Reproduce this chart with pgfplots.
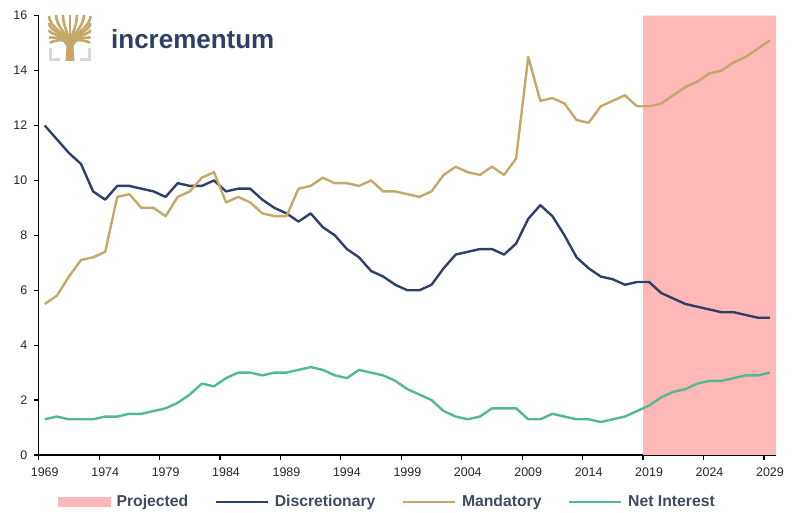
\documentclass[border=0pt]{standalone}
\usepackage{fontspec}
\setmainfont{Liberation Sans}
\usepackage{pgfplots}
\usepackage{pgfplotstable}
\pgfplotsset{compat=1.18}
\definecolor{navy}{RGB}{46,64,104}
\definecolor{tan}{RGB}{196,168,106}
\definecolor{mint}{RGB}{84,184,148}
\definecolor{proj}{RGB}{255,184,184}
\definecolor{legtext}{RGB}{62,74,96}
\definecolor{bracket}{RGB}{215,215,215}
\pgfplotstableread{
year disc mand net
1969 12.0 5.5 1.3
1970 11.5 5.8 1.4
1971 11.0 6.5 1.3
1972 10.6 7.1 1.3
1973 9.6 7.2 1.3
1974 9.3 7.4 1.4
1975 9.8 9.4 1.4
1976 9.8 9.5 1.5
1977 9.7 9.0 1.5
1978 9.6 9.0 1.6
1979 9.4 8.7 1.7
1980 9.9 9.4 1.9
1981 9.8 9.6 2.2
1982 9.8 10.1 2.6
1983 10.0 10.3 2.5
1984 9.6 9.2 2.8
1985 9.7 9.4 3.0
1986 9.7 9.2 3.0
1987 9.3 8.8 2.9
1988 9.0 8.7 3.0
1989 8.8 8.7 3.0
1990 8.5 9.7 3.1
1991 8.8 9.8 3.2
1992 8.3 10.1 3.1
1993 8.0 9.9 2.9
1994 7.5 9.9 2.8
1995 7.2 9.8 3.1
1996 6.7 10.0 3.0
1997 6.5 9.6 2.9
1998 6.2 9.6 2.7
1999 6.0 9.5 2.4
2000 6.0 9.4 2.2
2001 6.2 9.6 2.0
2002 6.8 10.2 1.6
2003 7.3 10.5 1.4
2004 7.4 10.3 1.3
2005 7.5 10.2 1.4
2006 7.5 10.5 1.7
2007 7.3 10.2 1.7
2008 7.7 10.8 1.7
2009 8.6 14.5 1.3
2010 9.1 12.9 1.3
2011 8.7 13.0 1.5
2012 8.0 12.8 1.4
2013 7.2 12.2 1.3
2014 6.8 12.1 1.3
2015 6.5 12.7 1.2
2016 6.4 12.9 1.3
2017 6.2 13.1 1.4
2018 6.3 12.7 1.6
2019 6.3 12.7 1.8
2020 5.9 12.8 2.1
2021 5.7 13.1 2.3
2022 5.5 13.4 2.4
2023 5.4 13.6 2.6
2024 5.3 13.9 2.7
2025 5.2 14.0 2.7
2026 5.2 14.3 2.8
2027 5.1 14.5 2.9
2028 5.0 14.8 2.9
2029 5.0 15.1 3.0
}\data
\begin{document}
\begin{tikzpicture}[x=1bp,y=1bp]
\useasboundingbox (-38.7,-58) rectangle (754.3,455);
\begin{axis}[
  at={(0,0)}, anchor=south west,
  scale only axis, width=737.3bp, height=439.3bp,
  xmin=1968.5, xmax=2029.5, ymin=0, ymax=16,
  axis lines*=left,
  axis line style={line width=1.6pt, black, -},
  tick align=outside,
  xtick={1969,1974,...,2029},
  xticklabels={1969,1974,1979,1984,1989,1994,1999,2004,2009,2014,2019,2024,2029},
  major x tick style={draw=none},
  minor xtick={1968.5,1973.5,...,2028.5},
  minor x tick style={line width=1.2pt, black},
  minor tick length=5bp,
  ytick={0,2,...,16},
  major y tick style={line width=1.2pt, black},
  major tick length=5bp,
  /pgf/number format/assume math mode=true,
  /pgf/number format/1000 sep={},
  ticklabel style={font=\fontsize{12.5}{14}\selectfont, text=black!85},
  xticklabel style={yshift=-4bp},
  yticklabel style={xshift=-3bp},
  legend columns=4,
  legend style={at={(axis description cs:0.473,-0.107)}, anchor=center,
    draw=none, fill=none, font=\fontsize{15.8}{18}\selectfont\bfseries, text=legtext,
    /tikz/every odd column/.append style={column sep=4bp},
    /tikz/every even column/.append style={column sep=24bp},
    inner sep=0pt},
  legend cell align=left,
]
\addplot[fill=proj, draw=none, forget plot] coordinates {(2018.5,0) (2018.5,16) (2029.5,16) (2029.5,0)} \closedcycle;
\addlegendimage{legend image code/.code={\fill[proj] (0bp,-4.5bp) rectangle (52bp,4.5bp);}}
\addlegendentry{Projected}
\addplot[navy, line width=2.4pt, line join=round,
  legend image code/.code={\draw[navy, line width=2.6pt] (0bp,0bp) -- (52bp,0bp);}] table[x=year,y=disc] {\data};
\addlegendentry{Discretionary}
\addplot[tan, line width=2.4pt, line join=round,
  legend image code/.code={\draw[tan, line width=2.6pt] (0bp,0bp) -- (52bp,0bp);}] table[x=year,y=mand] {\data};
\addlegendentry{Mandatory}
\addplot[mint, line width=2.4pt, line join=round,
  legend image code/.code={\draw[mint, line width=2.6pt] (0bp,0bp) -- (52bp,0bp);}] table[x=year,y=net] {\data};
\addlegendentry{Net Interest}
\end{axis}
% logo (image px (X,Y) -> (X-38.7, 455-Y))
\begin{scope}[shift={(-38.7,455)}, yscale=-1]
  \fill[bracket] (49,48) rectangle (51.5,61);
  \fill[bracket] (49,58.5) rectangle (60,61);
  \fill[bracket] (88,48) rectangle (90.5,61);
  \fill[bracket] (80,58.5) rectangle (90.5,61);
  \fill[tan] (65.5,61) -- (66.5,46) -- (61,39) -- (70,42) -- (79,39) -- (73.5,46) -- (74.5,61) -- cycle;
  \foreach \ex/\ey in {49/16, 49/23, 49/30, 49/37, 50/43, 56/15, 63/15, 70/15, 77/15, 84/15, 90.5/16, 90.5/23, 90.5/30, 90.5/37, 90/43}{
    \draw[tan, line width=2.6pt, line cap=butt] (70,46) .. controls (70,36) and (\ex,{(\ey+40)/2}) .. (\ex,\ey);
  }
\end{scope}
\node[anchor=base west, inner sep=0pt, text=navy] at (72.3,406.7)
  {\resizebox{163bp}{19bp}{\bfseries incrementum}};
\end{tikzpicture}
\end{document}
